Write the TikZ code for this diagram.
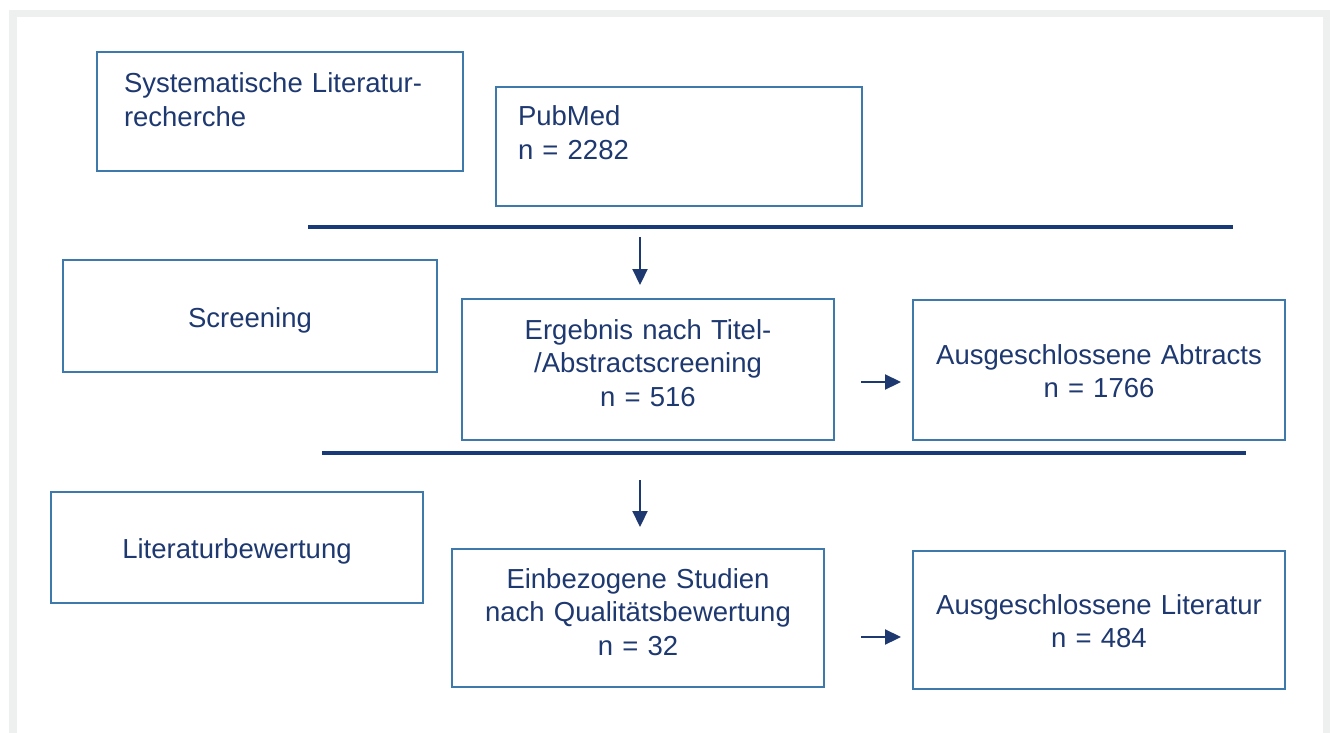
\documentclass[tikz,border=0pt]{standalone}
\usepackage{fontspec}
\setmainfont{Liberation Sans}
\usepackage{tikz}
\usetikzlibrary{arrows.meta}

\definecolor{boxblue}{RGB}{62,121,172}
\definecolor{navy}{RGB}{30,56,112}
\definecolor{rulenavy}{RGB}{24,58,118}
\definecolor{framegray}{RGB}{238,239,239}

\tikzset{
  box/.style={draw=boxblue, line width=2.4pt, anchor=north west, inner ysep=0pt,
    outer sep=0pt, text=navy, font=\fontsize{27.5}{33.5}\selectfont},
  lbox/.style={box, align=left, inner xsep=#1},
  cbox/.style={box, align=center, inner xsep=5pt},
  arr/.style={draw=navy, line width=2.2pt, -{Triangle[length=16pt,width=15pt]}},
  sep/.style={draw=rulenavy, line width=#1}
}

\begin{document}
\begin{tikzpicture}[x=1pt, y=-1pt]
    \useasboundingbox (0,0) rectangle (1330,733);
    \fill[white] (0,0) rectangle (1330,733);
    \fill[framegray] (9,10) rectangle (1330,733);
    \fill[white] (17,17) rectangle (1323,733);

    % linke Spalte
    \node[lbox=27pt, text width=312pt, text height=41pt, text depth=78pt] (suche) at (97,52)
      {Systematische Literatur-\\recherche};
    \node[cbox, text width=364pt, text height=67pt, text depth=45pt] (screen) at (63,260) {Screening};
    \node[cbox, text width=362pt, text height=66pt, text depth=45pt] (bewert) at (51,492) {Literaturbewertung};

    % mittlere Spalte
    \node[lbox=22pt, text width=322pt, text height=39pt, text depth=80pt] (pubmed) at (496,87)
      {PubMed\\n = 2282};
    \node[cbox, text width=362pt, text height=40pt, text depth=101pt] (ergebnis) at (462,299)
      {Ergebnis nach Titel-\\/Abstractscreening\\n = 516};
    \node[cbox, text width=362pt, text height=39pt, text depth=99pt] (studien) at (452,549)
      {Einbezogene Studien\\nach Qualitätsbewertung\\n = 32};

    % rechte Spalte
    \node[cbox, text width=362pt, text height=64pt, text depth=76pt] (ausabs) at (913,300)
      {Ausgeschlossene Abtracts\\n = 1766};
    \node[cbox, text width=362pt, text height=63pt, text depth=75pt] (auslit) at (913,551)
      {Ausgeschlossene Literatur\\n = 484};

    % Trennlinien
    \draw[sep=4.5pt] (308,227) -- (1233,227);
    \draw[sep=3.5pt] (322,453) -- (1246,453);

    % Pfeile
    \coordinate (d1) at (640,237);
    \coordinate (d2) at (640,480);
    \coordinate (r1) at (861,382);
    \coordinate (r2) at (861,637);
    \draw[arr, shorten >=14pt] (d1) -- (d1 |- ergebnis.north);
    \draw[arr, shorten >=22pt] (d2) -- (d2 |- studien.north);
    \draw[arr, shorten >=12pt] (r1) -- (r1 -| ausabs.west);
    \draw[arr, shorten >=12pt] (r2) -- (r2 -| auslit.west);
\end{tikzpicture}
\end{document}
